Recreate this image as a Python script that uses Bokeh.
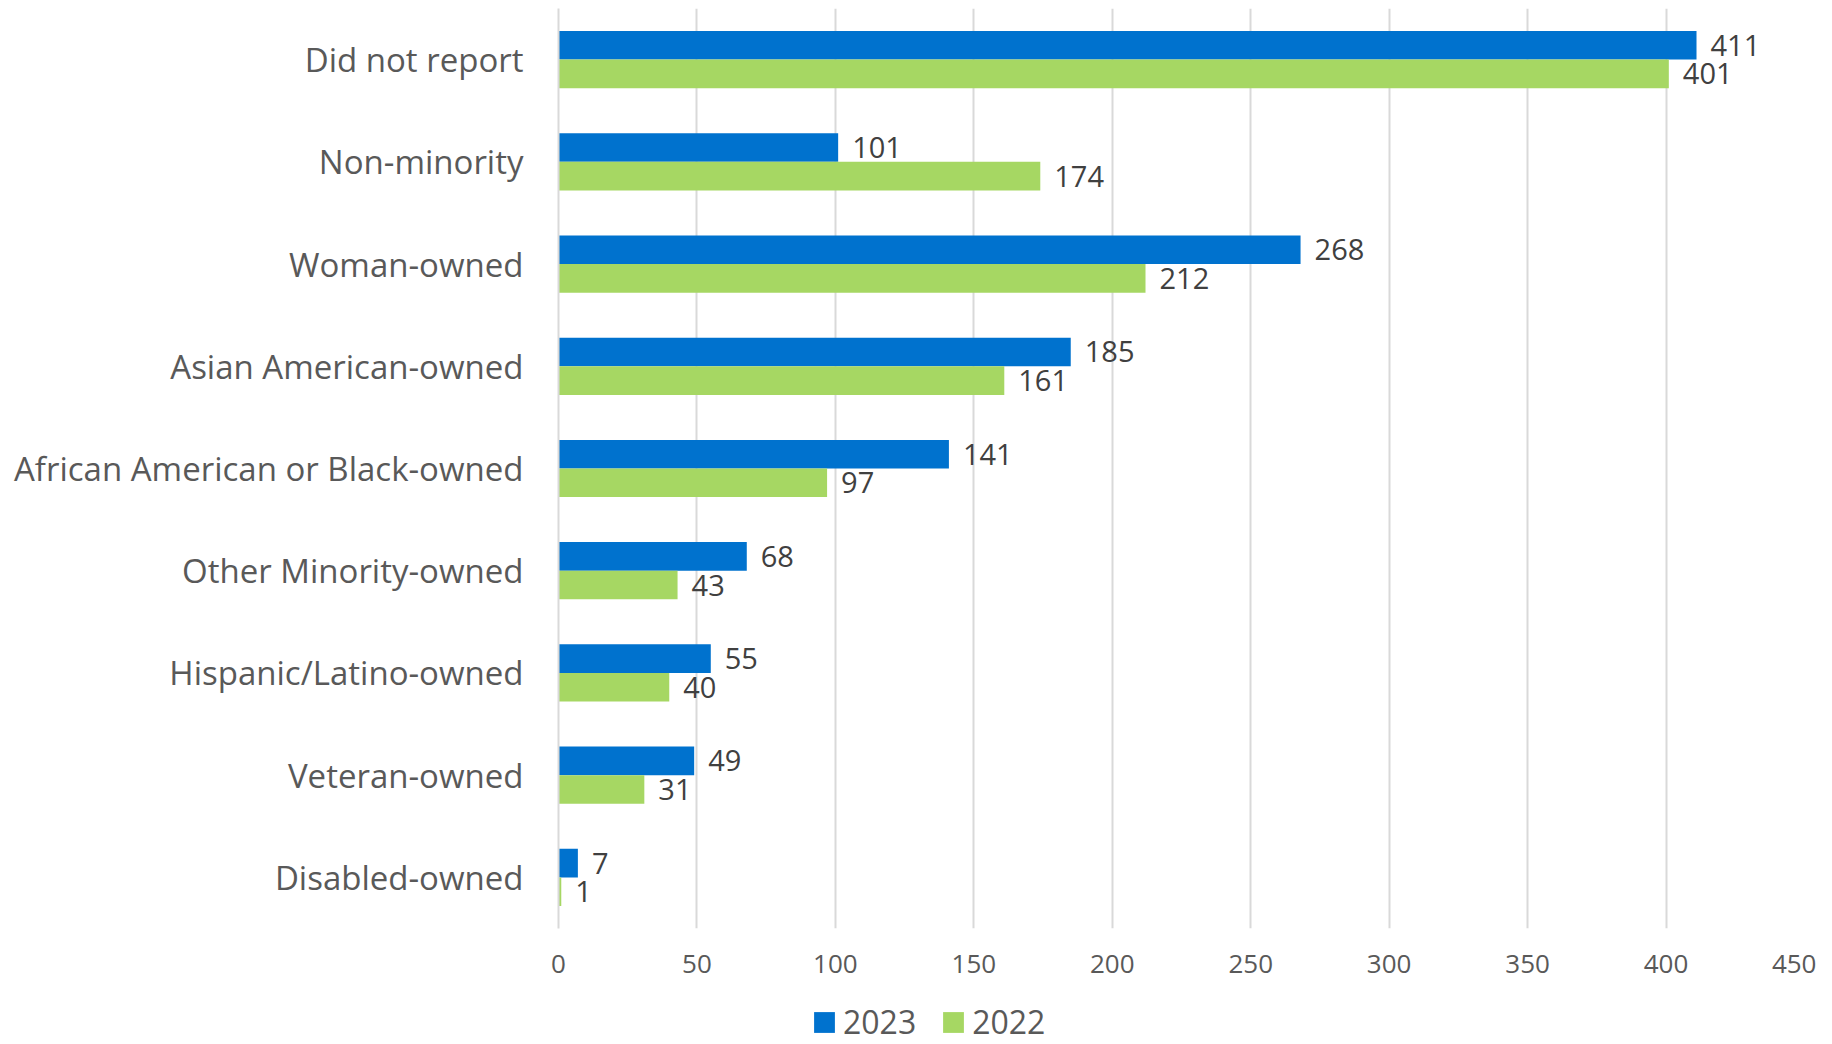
from bokeh.plotting import figure
from bokeh.models import FactorRange, Legend, LegendItem, ColumnDataSource
from bokeh.layouts import column
from bokeh.transform import dodge
from bokeh.core.properties import value
from bokeh.embed import file_html
from bokeh.resources import INLINE

categories = ["Did not report", "Non-minority", "Woman-owned", "Asian American-owned",
              "African American or Black-owned", "Other Minority-owned",
              "Hispanic/Latino-owned", "Veteran-owned", "Disabled-owned"]
values_2023 = [411, 101, 268, 185, 141, 68, 55, 49, 7]
values_2022 = [401, 174, 212, 161, 97, 43, 40, 31, 1]
x_ticks = [0, 50, 100, 150, 200, 250, 300, 350, 400, 450]
series_names = ["2023", "2022"]

BLUE = "#0072CE"
GREEN = "#A6D763"
FONT = "Open Sans"

src = ColumnDataSource(dict(
    cat=categories,
    v2023=values_2023,
    v2022=values_2022,
    l2023=[str(v) for v in values_2023],
    l2022=[str(v) for v in values_2022],
))

p = figure(width=1816, height=988,
           y_range=FactorRange(*reversed(categories)),
           x_range=(0, 450),
           output_backend="svg", toolbar_location=None,
           min_border_left=558, min_border_right=12,
           min_border_top=8, min_border_bottom=60)
p.outline_line_color = None
p.background_fill_color = "white"
p.border_fill_color = "white"

p.hbar(y=dodge("cat", 0.14, range=p.y_range), right="v2023", left=0, height=0.28,
       fill_color=BLUE, line_color=None, source=src)
p.hbar(y=dodge("cat", -0.14, range=p.y_range), right="v2022", left=0, height=0.28,
       fill_color=GREEN, line_color=None, source=src)

p.text(x="v2023", y=dodge("cat", 0.14, range=p.y_range), text="l2023", source=src,
       x_offset=14, text_baseline="middle", text_align="left",
       text_font=value(FONT), text_font_size="29px", text_color="#404040")
p.text(x="v2022", y=dodge("cat", -0.14, range=p.y_range), text="l2022", source=src,
       x_offset=14, text_baseline="middle", text_align="left",
       text_font=value(FONT), text_font_size="29px", text_color="#404040")

# axes
p.xaxis.ticker = x_ticks
p.xgrid.ticker = x_ticks
p.xgrid.grid_line_color = "#D9D9D9"
p.xgrid.grid_line_width = 2
p.ygrid.visible = False
p.xaxis.axis_line_color = None
p.xaxis.major_tick_line_color = None
p.xaxis.minor_tick_line_color = None
p.xaxis.major_label_standoff = 20
p.xaxis.major_label_text_font = FONT
p.xaxis.major_label_text_font_size = "26px"
p.xaxis.major_label_text_color = "#595959"

p.yaxis.axis_line_color = "#D9D9D9"
p.yaxis.axis_line_width = 2
p.yaxis.major_tick_line_color = None
p.yaxis.minor_tick_line_color = None
p.yaxis.major_label_standoff = 29
p.yaxis.major_label_text_font = FONT
p.yaxis.major_label_text_font_size = "33px"
p.yaxis.major_label_text_color = "#595959"

# legend strip below the chart (its frame is aligned with the chart's frame)
pl = figure(width=1816, height=56, x_range=(0, 1), y_range=(0, 1),
            x_axis_type=None, y_axis_type=None,
            output_backend="svg", toolbar_location=None, min_border=0)
pl.outline_line_color = None
pl.grid.visible = False
key_src = ColumnDataSource(dict(y=[0.5], left=[0], right=[0]))
k1 = pl.hbar(y="y", left="left", right="right", height=0, source=key_src,
             fill_color=BLUE, line_color=None)
k2 = pl.hbar(y="y", left="left", right="right", height=0, source=key_src,
             fill_color=GREEN, line_color=None)
legend = Legend(items=[LegendItem(label=series_names[0], renderers=[k1]),
                       LegendItem(label=series_names[1], renderers=[k2])],
                orientation="horizontal", location=(253, 1),
                padding=0, margin=0, spacing=24, label_standoff=6,
                glyph_width=26, glyph_height=26, label_height=26,
                label_text_font=FONT, label_text_font_size="32px",
                label_text_color="#595959", label_text_baseline="middle",
                border_line_color=None, background_fill_alpha=0)
pl.add_layout(legend, "center")

layout = column(p, pl, spacing=0)
open("out.html", "w").write(file_html(layout, INLINE))
